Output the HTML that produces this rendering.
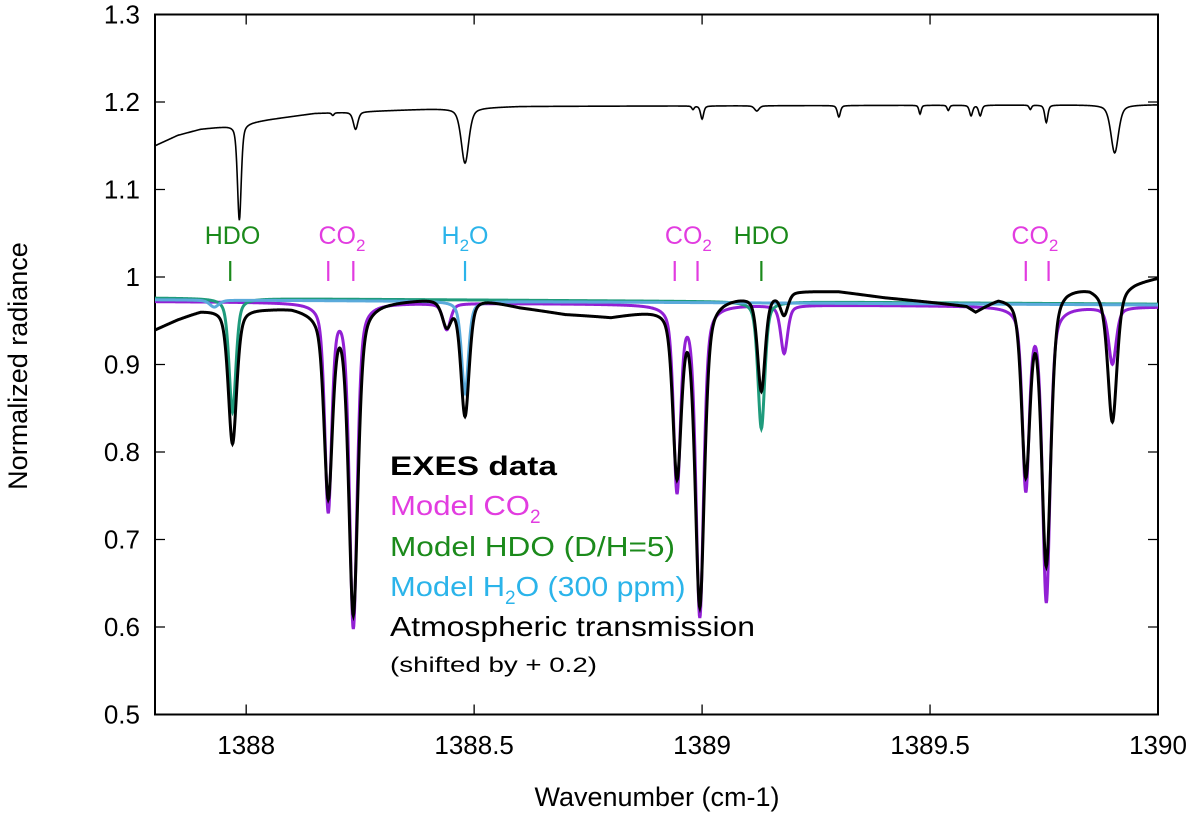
<!DOCTYPE html>
<html><head><meta charset="utf-8"><style>
html,body{margin:0;padding:0;background:#fff;}
svg{display:block;font-family:"Liberation Sans",sans-serif;}
</style></head><body>
<svg id="chart" width="1200" height="819" viewBox="0 0 1200 819">
<g id="axes"></g>
<g id="series"></g>
<g id="markers"></g>
<g id="legend" font-family="Liberation Sans, sans-serif">
  <text x="390" y="475" font-size="27" font-weight="bold" fill="#000" textLength="167" lengthAdjust="spacingAndGlyphs">EXES data</text>
  <text x="390" y="515" font-size="28" fill="#e23ce0"><tspan textLength="140" lengthAdjust="spacingAndGlyphs">Model CO</tspan><tspan font-size="19" dy="8">2</tspan></text>
  <text x="390" y="556" font-size="28" fill="#1b8a1b" textLength="285" lengthAdjust="spacingAndGlyphs">Model HDO (D/H=5)</text>
  <text x="390" y="596" font-size="28" fill="#2bb4ea"><tspan textLength="115" lengthAdjust="spacingAndGlyphs">Model H</tspan><tspan font-size="19" dy="8">2</tspan><tspan dy="-8" textLength="170" lengthAdjust="spacingAndGlyphs">O (300 ppm)</tspan></text>
  <text x="390" y="636" font-size="28" fill="#000" textLength="365" lengthAdjust="spacingAndGlyphs">Atmospheric transmission</text>
  <text x="390" y="672" font-size="21" fill="#000" textLength="207" lengthAdjust="spacingAndGlyphs">(shifted by + 0.2)</text>
</g>
</svg>
<script>
// ---- data ----
const xTicks = [1388, 1388.5, 1389, 1389.5, 1390];
const xTickLabels = ["1388", "1388.5", "1389", "1389.5", "1390"];
const yTicks = [0.5, 0.6, 0.7, 0.8, 0.9, 1.0, 1.1, 1.2, 1.3];
const yTickLabels = ["0.5", "0.6", "0.7", "0.8", "0.9", "1", "1.1", "1.2", "1.3"];

// EXES baseline [wavenumber, value]
const exesBase = [[1387.8,0.94],[1387.85,0.952],[1387.9,0.962],[1387.95,0.965],[1388.05,0.965],[1388.1,0.966],[1388.15,0.962],[1388.3,0.972],[1388.4,0.976],[1388.5,0.978],[1388.6,0.966],[1388.7,0.958],[1388.8,0.955],[1388.9,0.964],[1389.05,0.977],[1389.1,0.98],[1389.2,0.985],[1389.3,0.984],[1389.4,0.977],[1389.5,0.972],[1389.58,0.968],[1389.6,0.962],[1389.65,0.978],[1389.7,0.98],[1389.8,0.99],[1389.85,0.99],[1389.88,0.985],[1389.95,0.995],[1390,1.0]];
const exesCenters = [1387.97,1388.18,1388.235,1388.44,1388.48,1388.945,1388.995,1389.13,1389.18,1389.71,1389.755,1389.9];
const exesDepths  = [0.155,0.21,0.35,0.03,0.135,0.19,0.345,0.11,0.025,0.2,0.31,0.152];
const exesWidths  = [0.011,0.011,0.012,0.012,0.011,0.011,0.012,0.010,0.010,0.011,0.012,0.012];

const co2Base = [[1387.8,0.972],[1390,0.966]];
const co2Centers = [1388.18,1388.235,1388.44,1388.945,1388.995,1389.18,1389.71,1389.755,1389.9];
const co2Depths  = [0.235,0.37,0.03,0.21,0.355,0.055,0.205,0.335,0.065];
const co2Widths  = [0.009,0.010,0.010,0.009,0.010,0.009,0.009,0.010,0.010];

const hdoBase = [[1387.8,0.976],[1390,0.969]];
const hdoCenters = [1387.97,1389.13];
const hdoDepths  = [0.13,0.145];
const hdoWidths  = [0.009,0.009];

const h2oBase = [[1387.8,0.974],[1390,0.968]];
const h2oCenters = [1387.93,1388.48];
const h2oDepths  = [0.008,0.105];
const h2oWidths  = [0.012,0.009];

const atmBase = [[1387.8,1.15],[1387.85,1.162],[1387.9,1.169],[1387.95,1.172],[1388.05,1.18],[1388.15,1.187],[1388.3,1.19],[1388.4,1.192],[1388.6,1.195],[1390,1.197]];
const atmCenters = [1387.985,1388.19,1388.24,1388.48,1388.98,1389.0,1389.12,1389.3,1389.478,1389.54,1389.59,1389.61,1389.72,1389.755,1389.905];
const atmDepths  = [0.11,0.003,0.02,0.063,0.004,0.015,0.006,0.013,0.01,0.006,0.012,0.012,0.005,0.02,0.055];
const atmWidths  = [0.005,0.003,0.006,0.010,0.003,0.004,0.006,0.004,0.003,0.003,0.004,0.004,0.003,0.004,0.010];

const markerLabels = [["HDO",1387.97,"#1b8a1b"],["CO2",1388.21,"#e23ce0"],["H2O",1388.48,"#2bb4ea"],["CO2",1388.97,"#e23ce0"],["HDO",1389.13,"#1b8a1b"],["CO2",1389.73,"#e23ce0"]];
const markerTicks = [[1387.965,"#1b8a1b"],[1388.18,"#e23ce0"],[1388.235,"#e23ce0"],[1388.48,"#2bb4ea"],[1388.94,"#e23ce0"],[1388.99,"#e23ce0"],[1389.13,"#1b8a1b"],[1389.71,"#e23ce0"],[1389.76,"#e23ce0"]];

// ---- scales ----
const X0=155, X1=1158, Y0=714.5, Y1=14.5;
const xMin=1387.8, xMax=1390, yMin=0.5, yMax=1.3;
const sx = v => X0 + (v-xMin)/(xMax-xMin)*(X1-X0);
const sy = v => Y0 - (v-yMin)/(yMax-yMin)*(Y0-Y1);
const NS="http://www.w3.org/2000/svg";
function mk(tag, attrs, parent){const e=document.createElementNS(NS,tag);for(const k in attrs)e.setAttribute(k,attrs[k]);parent.appendChild(e);return e;}

function interp(base, x){
  for(let i=0;i<base.length-1;i++){if(x<=base[i+1][0]){const t=(x-base[i][0])/(base[i+1][0]-base[i][0]);return base[i][1]+t*(base[i+1][1]-base[i][1]);}}
  return base[base.length-1][1];
}
function profile(x,c,w){const u=(x-c)/w;return 0.5/(1+u*u)+0.5*Math.exp(-Math.LN2*u*u);}
function curve(base,cs,ds,ws){
  let d="";
  for(let i=0;i<=2200;i++){
    const x=xMin+i*0.001;
    let v=interp(base,x);
    for(let j=0;j<cs.length;j++) v-=ds[j]*profile(x,cs[j],ws[j]);
    d+=(i?"L":"M")+sx(x).toFixed(2)+","+sy(v).toFixed(2);
  }
  return d;
}

// ---- axes ----
const ax=document.getElementById("axes");
const frame=mk("rect",{x:X0,y:Y1,width:X1-X0,height:Y0-Y1,fill:"none",stroke:"#000","stroke-width":2},ax);


xTicks.forEach((t,i)=>{
  const x=sx(t);
  const tk=mk("path",{d:`M${x},${Y0}V${Y0-10}M${x},${Y1}V${Y1+10}`,stroke:"#000","stroke-width":1.3},ax);
  
  
  const lb=mk("text",{x:x,y:754,"font-size":26,"text-anchor":"middle",fill:"#000"},ax);
  lb.textContent=xTickLabels[i];
  
  
});
yTicks.forEach((t,i)=>{
  const y=sy(t);
  const tk=mk("path",{d:`M${X0},${y}H${X0+10}M${X1},${y}H${X1-10}`,stroke:"#000","stroke-width":1.3},ax);
  
  
  const lb=mk("text",{x:140,y:y+9,"font-size":26,"text-anchor":"end",fill:"#000"},ax);
  lb.textContent=yTickLabels[i];
  
  
});
const xt=mk("text",{x:657,y:806,"font-size":27,"text-anchor":"middle",fill:"#000"},ax);
xt.textContent="Wavenumber (cm-1)";


const yt=mk("text",{x:0,y:0,"font-size":27,"text-anchor":"middle",fill:"#000",transform:"translate(27,366) rotate(-90)"},ax);
yt.textContent="Normalized radiance";



// ---- series ----
const sg=document.getElementById("series");
const s1=mk("path",{d:curve(co2Base,co2Centers,co2Depths,co2Widths),fill:"none",stroke:"#9220d4","stroke-width":3},sg);


const s2=mk("path",{d:curve(hdoBase,hdoCenters,hdoDepths,hdoWidths),fill:"none",stroke:"#1f9b7c","stroke-width":3},sg);


const s3=mk("path",{d:curve(h2oBase,h2oCenters,h2oDepths,h2oWidths),fill:"none",stroke:"#5aaadb","stroke-width":3},sg);


const s4=mk("path",{d:curve(exesBase,exesCenters,exesDepths,exesWidths),fill:"none",stroke:"#000","stroke-width":3},sg);


const s5=mk("path",{d:curve(atmBase,atmCenters,atmDepths,atmWidths),fill:"none",stroke:"#000","stroke-width":1.6},sg);



// ---- markers ----
const mg=document.getElementById("markers");
markerLabels.forEach(m=>{
  const t=mk("text",{x:sx(m[1]),y:244,"font-size":25,"text-anchor":"middle",fill:m[2]},mg);
  if(m[0]==="CO2"){t.innerHTML='CO<tspan font-size="17" dy="7">2</tspan>';}
  else if(m[0]==="H2O"){t.innerHTML='H<tspan font-size="17" dy="7">2</tspan><tspan dy="-7">O</tspan>';}
  else t.textContent=m[0];
  
  
});
markerTicks.forEach(m=>{
  const l=mk("line",{x1:sx(m[0]),x2:sx(m[0]),y1:261,y2:281,stroke:m[1],"stroke-width":2.2},mg);
  
  
});
</script>
</body></html>
